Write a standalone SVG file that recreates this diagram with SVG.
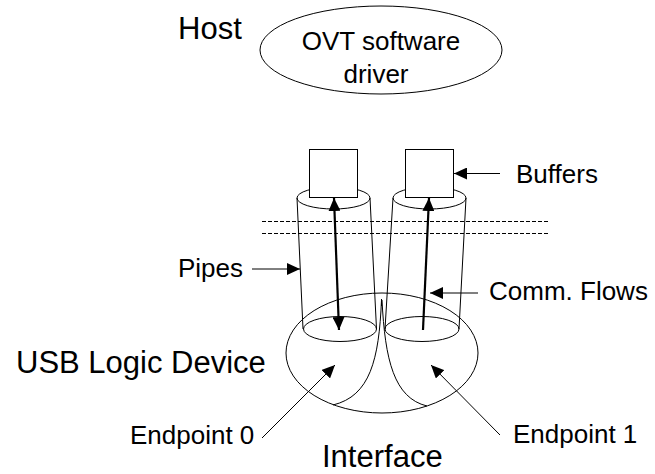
<svg xmlns="http://www.w3.org/2000/svg" width="655" height="474" viewBox="0 0 655 474">
<defs>
<style>
.t{font-family:"Liberation Sans",Arial,sans-serif;fill:#000}
.big{font-size:31px}
.sm{font-size:26px}
.ln{fill:none;stroke:#000;stroke-width:1}
.box{fill:#fff;stroke:#000;stroke-width:1}
.arr{fill:none;stroke:#000;stroke-width:1;marker-end:url(#ah)}
.flow{fill:none;stroke:#000;stroke-width:2.2}
.dash{fill:none;stroke:#000;stroke-width:1;stroke-dasharray:4 2}
</style>
<marker id="ah" markerUnits="userSpaceOnUse" markerWidth="13" markerHeight="12" refX="13" refY="6" orient="auto-start-reverse">
<path d="M0,0 L13,6 L0,12 z" fill="#000"/>
</marker>
</defs>
<rect width="655" height="474" fill="#fff"/>

<g id="host-label"><text class="t big" x="178" y="39">Host</text></g>
<g id="driver">
<ellipse class="ln" cx="381" cy="50" rx="121" ry="44"/>
<text class="t sm" x="381" y="50" text-anchor="middle">OVT software</text>
<text class="t sm" x="376" y="83" text-anchor="middle">driver</text>
</g>

<g id="dashed-boundary">
<line class="dash" x1="262" y1="221.5" x2="548" y2="221.5"/>
<line class="dash" x1="262" y1="233.5" x2="548" y2="233.5"/>
</g>

<g id="usb-device">
<ellipse class="ln" cx="382" cy="353" rx="96" ry="60"/>
<path class="ln" d="M381.5,300 C379,360 370,396 333,405"/>
<path class="ln" d="M382,300 C385,360 394,398 427,406"/>
<line class="ln" x1="381.5" y1="299" x2="381.5" y2="306"/>
</g>

<g id="pipe0">
<ellipse class="ln" cx="333.5" cy="198" rx="36.5" ry="11"/>
<line class="ln" x1="297" y1="198" x2="303" y2="329"/>
<line class="ln" x1="370" y1="198" x2="376.5" y2="329"/>
<ellipse class="ln" cx="340" cy="329" rx="36.5" ry="12.5"/>
</g>
<g id="pipe1">
<ellipse class="ln" cx="429.5" cy="198" rx="36.5" ry="11"/>
<line class="ln" x1="393" y1="198" x2="385" y2="329"/>
<line class="ln" x1="466" y1="198" x2="459" y2="329"/>
<ellipse class="ln" cx="422" cy="329" rx="37" ry="12.5"/>
</g>

<g id="buffer0"><rect class="box" x="309.5" y="149.5" width="48" height="48"/></g>
<g id="buffer1"><rect class="box" x="405.5" y="149.5" width="48" height="48"/></g>

<g id="connectors">
<line class="flow" x1="334" y1="198" x2="339" y2="330" marker-start="url(#ah)" marker-end="url(#ah)"/>
<line class="flow" x1="423" y1="330" x2="429" y2="198" marker-end="url(#ah)"/>
<line class="arr" x1="500" y1="173.5" x2="454" y2="173.5"/>
<line class="arr" x1="252" y1="269" x2="300" y2="269"/>
<line class="arr" x1="478" y1="293" x2="430" y2="293"/>
<line class="arr" x1="262" y1="438" x2="335" y2="365"/>
<line class="arr" x1="500" y1="435" x2="431" y2="365"/>
</g>

<g id="labels">
<text class="t sm" x="516" y="183">Buffers</text>
<text class="t sm" x="178" y="277">Pipes</text>
<text class="t sm" x="489" y="300">Comm. Flows</text>
<text class="t big" x="16" y="373">USB Logic Device</text>
<text class="t sm" x="130" y="444">Endpoint 0</text>
<text class="t sm" x="513" y="443">Endpoint 1</text>
<text class="t big" x="322" y="467">Interface</text>
</g>
</svg>
